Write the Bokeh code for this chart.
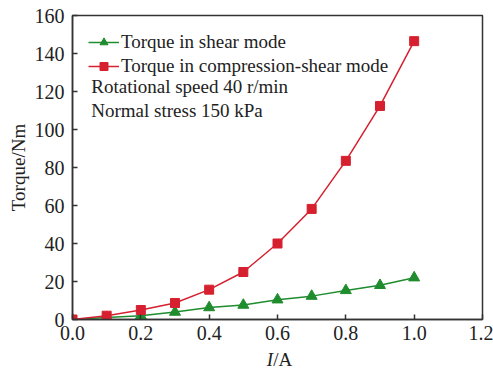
from bokeh.plotting import figure
from bokeh.models import Legend, LegendItem, Label, FixedTicker, Range1d, Div
from bokeh.layouts import column
from bokeh.embed import file_html
from bokeh.resources import INLINE

current = [0.0, 0.1, 0.2, 0.3, 0.4, 0.5, 0.6, 0.7, 0.8, 0.9, 1.0]
torque_shear = [0.0, 1.0, 2.0, 3.9, 6.3, 7.6, 10.4, 12.3, 15.3, 18.0, 22.0]
torque_comp_shear = [0.0, 2.0, 5.0, 8.7, 15.7, 25.0, 40.0, 58.2, 83.5, 112.4, 146.5]
x_ticks = [0.0, 0.2, 0.4, 0.6, 0.8, 1.0, 1.2]
y_ticks = [0, 20, 40, 60, 80, 100, 120, 140, 160]
series_names = ["Torque in shear mode", "Torque in compression-shear mode"]
notes = ["Rotational speed 40 r/min", "Normal stress 150 kPa"]
x_label_html = "<i>I</i>/A"

FONT = "Liberation Serif"
GREEN = "#1f8c2e"
RED = "#d6202f"
AXC = "#333333"
TXT = "#222222"

p = figure(width=493, height=348, output_backend="svg", toolbar_location=None,
           x_range=Range1d(0, 1.2), y_range=Range1d(0, 160),
           min_border_left=72, min_border_right=11, min_border_top=15, min_border_bottom=29)
p.grid.visible = False
p.outline_line_color = AXC
p.outline_line_width = 1.5

for ax in (p.xaxis[0], p.yaxis[0]):
    ax.major_label_text_font = FONT
    ax.major_label_text_font_size = "20px"
    ax.major_label_text_color = TXT
    ax.axis_line_color = AXC
    ax.axis_line_width = 1.5
    ax.major_tick_line_color = AXC
    ax.major_tick_line_width = 1.5
    ax.major_tick_in = 5
    ax.major_tick_out = 0
    ax.minor_tick_line_color = None

p.xaxis.ticker = FixedTicker(ticks=x_ticks)
p.xaxis.major_label_overrides = {t: f"{t:.1f}" for t in x_ticks}
p.yaxis.ticker = FixedTicker(ticks=y_ticks)
p.xaxis.major_label_standoff = 6
p.yaxis.major_label_standoff = 8

p.yaxis.axis_label = "Torque/Nm"
p.yaxis.axis_label_text_font = FONT
p.yaxis.axis_label_text_font_size = "19px"
p.yaxis.axis_label_text_font_style = "normal"
p.yaxis.axis_label_text_color = TXT
p.yaxis.axis_label_standoff = 3

gl = p.line(current, torque_shear, line_color=GREEN, line_width=1.5)
gs = p.scatter(current, torque_shear, marker="triangle", size=11, fill_color=GREEN, line_color=GREEN)
rl = p.line(current, torque_comp_shear, line_color=RED, line_width=1.5)
rs = p.scatter(current, torque_comp_shear, marker="square", size=9, fill_color=RED, line_color=RED)

legend = Legend(items=[LegendItem(label=series_names[0], renderers=[gl, gs]),
                       LegendItem(label=series_names[1], renderers=[rl, rs])],
                location="top_left")
legend.label_text_font = FONT
legend.label_text_font_size = "19px"
legend.label_text_color = TXT
legend.border_line_color = None
legend.background_fill_alpha = 0
legend.glyph_width = 31
legend.glyph_height = 20
legend.label_standoff = 2
legend.spacing = 2
legend.padding = 0
legend.label_height = 20
legend.margin = 16
p.add_layout(legend)

for i, txt in enumerate(notes):
    p.add_layout(Label(x=0.055, y=122.4 - i * 12.2, text=txt, text_font=FONT,
                       text_font_size="19px", text_color=TXT, text_baseline="middle"))

xlab = Div(text=x_label_html, width=493, height=23, margin=0,
           styles={"font-family": FONT, "font-size": "19px", "color": TXT,
                   "text-align": "center", "padding-left": "66px", "line-height": "19px",
                   "padding-top": "2px", "box-sizing": "border-box", "width": "493px",
                   "overflow": "visible"})

layout = column(p, xlab, spacing=0)
open("out.html", "w").write(file_html(layout, INLINE))
